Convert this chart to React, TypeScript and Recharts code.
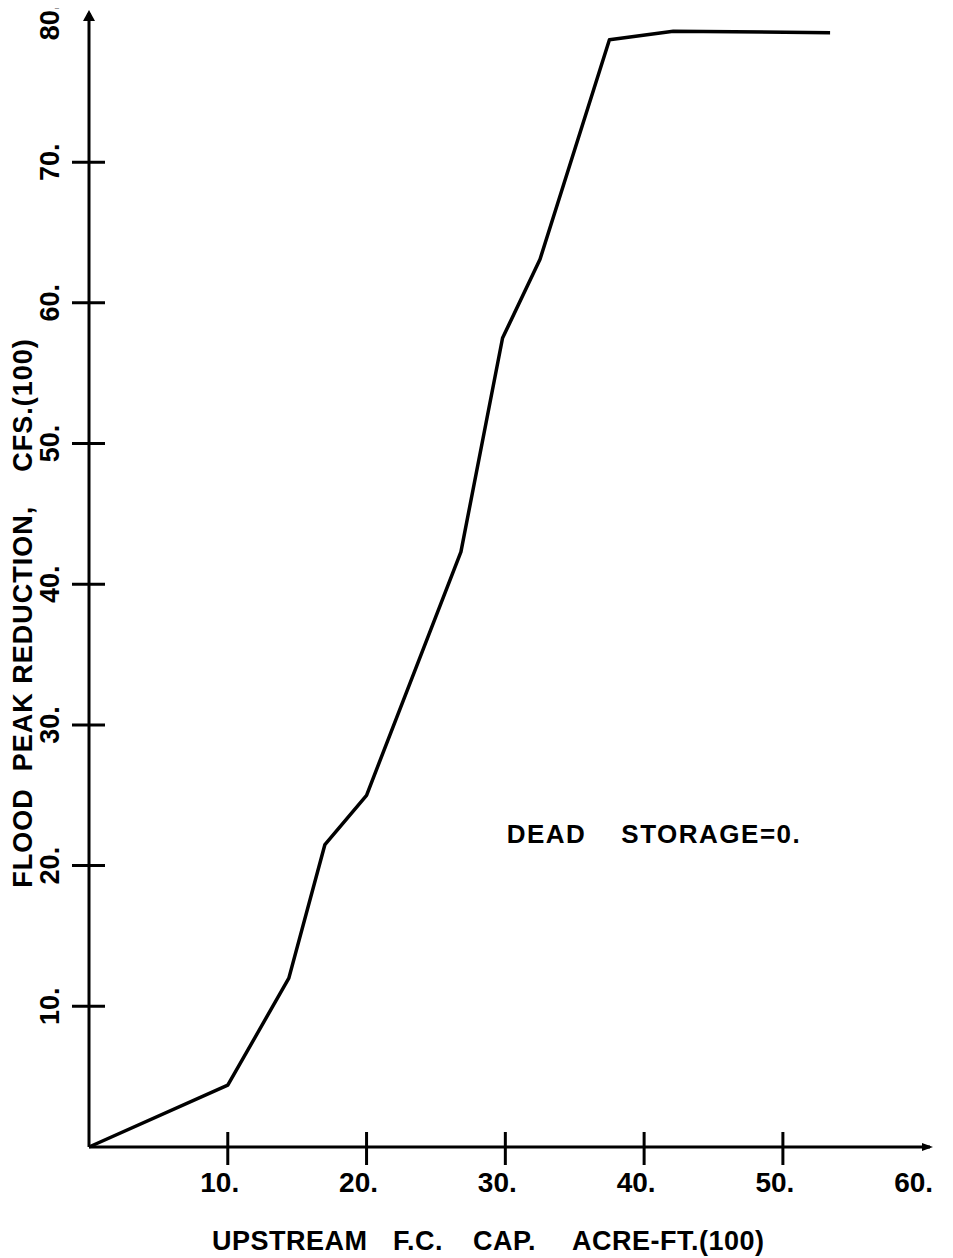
import React from 'react';
import { LineChart, Line, XAxis, YAxis, ReferenceDot, Label } from 'recharts';

const FONT = '"Liberation Sans", Arial, sans-serif';

// Upstream F.C. capacity, acre-ft (100)
const capacity = [0, 10, 14.4, 17.0, 20.0, 26.8, 29.8, 32.5, 37.5, 42.1, 53.4];
// Flood peak reduction, cfs (100)
const reduction = [0, 4.4, 12.0, 21.5, 25.0, 42.3, 57.5, 63.1, 78.7, 79.3, 79.2];

const xTickValues = [10, 20, 30, 40, 50, 60];
const yTickValues = [10, 20, 30, 40, 50, 60, 70, 80];

const xTitleParts = ['UPSTREAM', 'F.C.', 'CAP.', 'ACRE-FT.(100)'];
const yTitle = 'FLOOD  PEAK REDUCTION,    CFS.(100)';
const note = 'DEAD    STORAGE=0.';

const data = capacity.map((x, i) => ({ x, y: reduction[i] }));

// horizontal offsets of the x-title words from its left edge
const xTitleOffsets = [0, 181, 261, 360];

function XTick(props: any) {
  const { x, y, payload } = props;
  const v = payload.value;
  return (
    <g>
      {v !== 60 && <line x1={x} x2={x} y1={y - 15} y2={y + 18} stroke="#000" strokeWidth={3} />}
      <text x={x - 8} y={y + 45} textAnchor="middle" fontFamily={FONT} fontWeight={700} fontSize={28} fill="#000">
        {`${v}.`}
      </text>
    </g>
  );
}

function YTick(props: any) {
  const { x, y, payload } = props;
  const v = payload.value;
  const cx = x - 39;
  const cy = y;
  return (
    <g>
      {v !== 80 && <line x1={x - 17} x2={x + 16} y1={y} y2={y} stroke="#000" strokeWidth={3} />}
      <text
        x={cx}
        y={cy}
        transform={`rotate(-90 ${cx} ${cy})`}
        textAnchor="middle"
        dominantBaseline="central"
        fontFamily={FONT}
        fontWeight={700}
        fontSize={27}
        fill="#000"
      >
        {`${v}.`}
      </text>
    </g>
  );
}

export default function App() {
  return (
    <div style={{ width: 953, height: 1258, margin: '-8px 0 0 -8px', background: '#fff' }}>
      <LineChart width={953} height={1258} data={data} margin={{ top: 13, right: 23, bottom: 0, left: 0 }}>
        <XAxis
          type="number"
          dataKey="x"
          domain={[0, 60.6]}
          ticks={xTickValues}
          interval={0}
          height={111}
          tickSize={0}
          tickMargin={0}
          tickLine={false}
          axisLine={{ stroke: '#000', strokeWidth: 3 }}
          tick={(p: any) => <XTick {...p} />}
        >
          <Label
            content={(p: any) => {
              const vb = p.viewBox;
              const left = vb.x + 123;
              return (
                <text
                  y={vb.y + 103}
                  fontFamily={FONT}
                  fontWeight={700}
                  fontSize={27}
                  letterSpacing={0.5}
                  fill="#000"
                >
                  {xTitleParts.map((w, i) => (
                    <tspan key={w} x={left + xTitleOffsets[i]}>
                      {w}
                    </tspan>
                  ))}
                </text>
              );
            }}
          />
        </XAxis>
        <YAxis
          type="number"
          dataKey="y"
          domain={[0, 80.6]}
          ticks={yTickValues}
          interval={0}
          width={89}
          tickSize={0}
          tickMargin={0}
          tickLine={false}
          axisLine={{ stroke: '#000', strokeWidth: 3 }}
          tick={(p: any) => <YTick {...p} />}
        >
          <Label
            content={(p: any) => {
              const vb = p.viewBox;
              const cx = vb.x + 23;
              const cy = vb.y + vb.height / 2 + 33;
              return (
                <text
                  x={cx}
                  y={cy}
                  transform={`rotate(-90 ${cx} ${cy})`}
                  textAnchor="middle"
                  dominantBaseline="central"
                  fontFamily={FONT}
                  fontWeight={700}
                  fontSize={27}
                  letterSpacing={1}
                  fill="#000"
                  style={{ whiteSpace: 'pre' }}
                >
                  {yTitle}
                </text>
              );
            }}
          />
        </YAxis>
        <Line
          type="linear"
          dataKey="y"
          stroke="#000"
          strokeWidth={3.5}
          dot={false}
          isAnimationActive={false}
          strokeLinejoin="round"
        />
        <ReferenceDot
          x={60.6}
          y={0}
          ifOverflow="visible"
          shape={(p: any) => (
            <polygon
              points={`${p.cx + 3},${p.cy} ${p.cx - 8},${p.cy - 4} ${p.cx - 8},${p.cy + 4}`}
              fill="#000"
            />
          )}
        />
        <ReferenceDot
          x={0}
          y={80.6}
          ifOverflow="visible"
          shape={(p: any) => (
            <polygon
              points={`${p.cx},${p.cy - 3} ${p.cx - 6},${p.cy + 8} ${p.cx + 6},${p.cy + 8}`}
              fill="#000"
            />
          )}
        />
        <ReferenceDot
          x={30.1}
          y={21.6}
          ifOverflow="visible"
          shape={(p: any) => (
            <text
              x={p.cx}
              y={p.cy}
              fontFamily={FONT}
              fontWeight={700}
              fontSize={26}
              letterSpacing={1.5}
              fill="#000"
              style={{ whiteSpace: 'pre' }}
            >
              {note}
            </text>
          )}
        />
      </LineChart>
    </div>
  );
}
